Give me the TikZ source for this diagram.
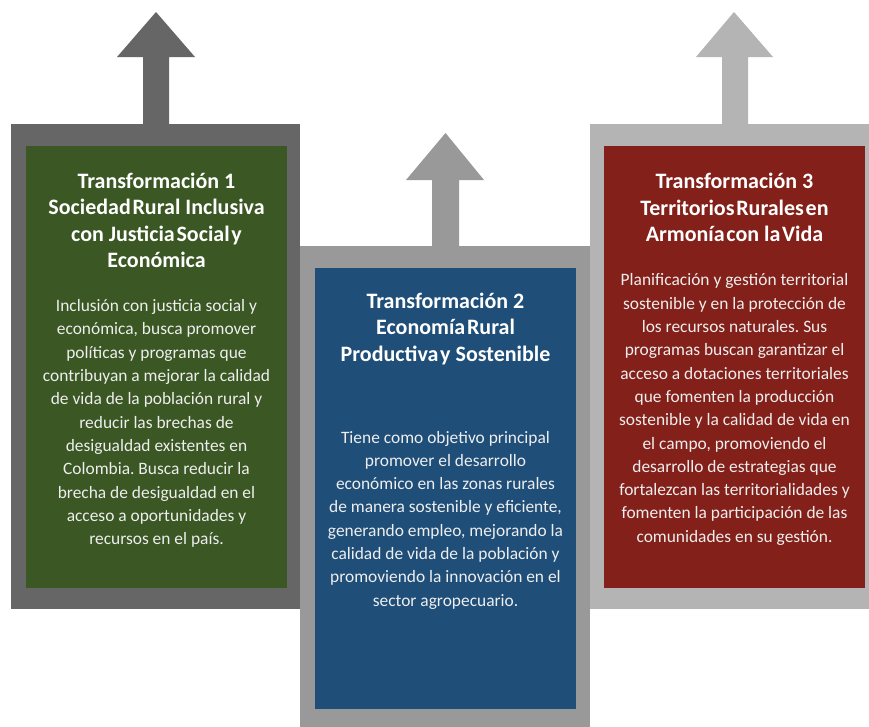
\documentclass[tikz,border=0pt]{standalone}
\usepackage{fontspec}
\setmainfont{Carlito}
\frenchspacing
\definecolor{frameA}{HTML}{666666}
\definecolor{frameB}{HTML}{999999}
\definecolor{frameC}{HTML}{B4B4B4}
\definecolor{boxA}{HTML}{3A5724}
\definecolor{boxB}{HTML}{1F4E79}
\definecolor{boxC}{HTML}{84201A}
\definecolor{bodytxt}{HTML}{EEEEEE}
\newcommand{\ns}{\hspace{0.08em}}
\begin{document}
\begin{tikzpicture}[x=1pt,y=-1pt,
  titletxt/.style={text=white, align=center, inner sep=0pt,
    font={\bfseries\fontsize{22}{26.4}\selectfont}},
  bodytext/.style={text=bodytxt, align=center, inner sep=0pt,
    font={\fontsize{17.4}{23.3}\selectfont}}]
\useasboundingbox (0,0) rectangle (869,726);
\clip (0,0) rectangle (869,726);
\fill[white] (0,0) rectangle (869,726);
% frames
\fill[frameA] (11,124) rectangle (300,609);
\fill[boxA] (26,146) rectangle (287,588);
\fill[frameB] (300,246) rectangle (590,740);
\fill[boxB] (315,268) rectangle (576,709);
\fill[frameC] (590,124) rectangle (880,609);
\fill[boxC] (604,146) rectangle (865,588);
% arrows
\fill[frameA] (143,124) -- (143,57) -- (117,57) -- (156,12) -- (195,57) -- (169,57) -- (169,124) -- cycle;
\fill[frameB] (432,246) -- (432,180) -- (406,180) -- (445.5,133) -- (484,180) -- (459,180) -- (459,246) -- cycle;
\fill[frameC] (722,124) -- (722,57) -- (696,57) -- (734,12) -- (773,57) -- (748,57) -- (748,124) -- cycle;
% texts
\node[titletxt] (t1) at (156.5,220.4) {Transformación 1\\Sociedad\ns Rural Inclusiva\\con Justicia\ns Social\ns y\\Económica};
\node[bodytext] (b1) at (156.5,423.5) {Inclusión con justicia social y\\económica, busca promover\\políticas y programas que\\contribuyan a mejorar la calidad\\de vida de la población rural y\\reducir las brechas de\\desigualdad existentes en\\Colombia. Busca reducir la\\brecha de desigualdad en el\\acceso a oportunidades y\\recursos en el país.};
\node[titletxt] (t2) at (445.5,329) {Transformación 2\\Economía\ns Rural\\Productiva\ns y Sostenible};
\node[bodytext] (b2) at (445.5,520) {Tiene como objetivo principal\\promover el desarrollo\\económico en las zonas rurales\\de manera sostenible y eficiente,\\generando empleo, mejorando la\\calidad de vida de la población y\\promoviendo la innovación en el\\sector agropecuario.};
\node[titletxt] (t3) at (734.5,207.5) {Transformación 3\\Territorios\ns Rurales\ns en\\Armonía\ns con la\ns Vida};
\node[bodytext] (b3) at (734.5,409.5) {Planificación y gestión territorial\\sostenible y en la protección de\\los recursos naturales. Sus\\programas buscan garantizar el\\acceso a dotaciones territoriales\\que fomenten la producción\\sostenible y la calidad de vida en\\el campo, promoviendo el\\desarrollo de estrategias que\\fortalezcan las territorialidades y\\fomenten la participación de las\\comunidades en su gestión.};
\end{tikzpicture}
\end{document}
